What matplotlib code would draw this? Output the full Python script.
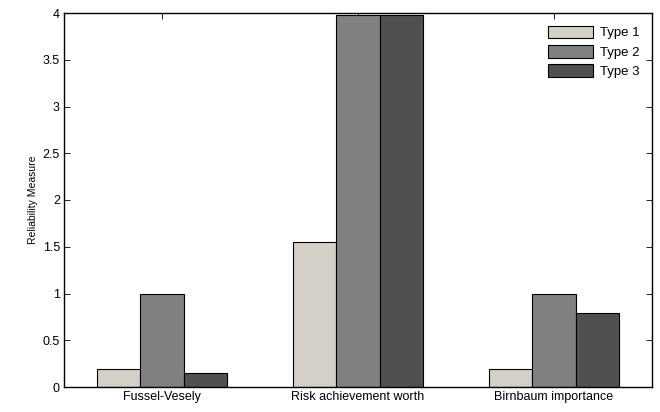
import numpy as np
import matplotlib.pyplot as plt

plt.rcParams['font.family'] = ['Liberation Sans', 'DejaVu Sans']

categories = ["Fussel-Vesely", "Risk achievement worth", "Birnbaum importance"]
series_names = ["Type 1", "Type 2", "Type 3"]
type1 = [0.19, 1.55, 0.19]
type2 = [1.00, 3.98, 1.00]
type3 = [0.15, 3.98, 0.79]
colors = ["#d4d0c8", "#808080", "#505050"]

fig = plt.figure(figsize=(6.6, 4.12), dpi=100)
ax = fig.add_axes([64 / 660, 25 / 412, 588 / 660, 374 / 412])

x = np.arange(1, len(categories) + 1)
w = 0.222
for i, (vals, name) in enumerate(zip([type1, type2, type3], series_names)):
    ax.bar(x + (i - 1) * w, vals, width=w, color=colors[i], edgecolor="black",
           linewidth=0.8, label=name, zorder=2)

ax.set_xlim(0.5, 3.5)
ax.set_ylim(0, 4)
ax.set_xticks(x)
ax.set_xticklabels(categories)
ax.set_yticks(np.arange(0, 4.01, 0.5))
ax.set_yticklabels(["0", "0.5", "1", "1.5", "2", "2.5", "3", "3.5", "4"])
ax.tick_params(direction="in", top=True, right=True, length=4, width=0.6,
               labelsize=9, pad=3)
for s in ax.spines.values():
    s.set_linewidth(1.0)
ax.set_ylabel("Reliability Measure", fontsize=7.5, labelpad=3)

ax.legend(loc="upper right", frameon=False, fontsize=9.5, handlelength=3.4,
          handleheight=1.1, labelspacing=0.42, handletextpad=0.5,
          borderaxespad=0.55)

fig.savefig("out.png", dpi=100)
